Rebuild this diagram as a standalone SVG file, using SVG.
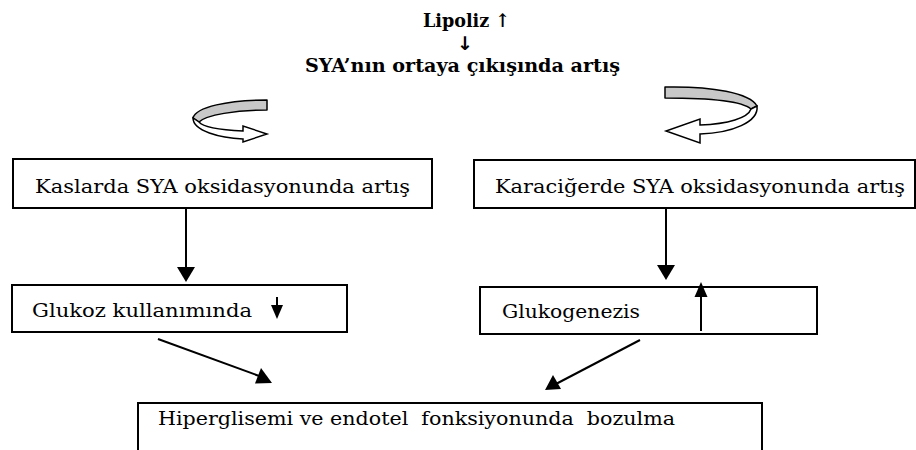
<svg xmlns="http://www.w3.org/2000/svg" width="916" height="450" viewBox="0 0 916 450">
<style>
.box{fill:#fff;stroke:#000;stroke-width:2}
.t{font-family:"DejaVu Serif","Liberation Serif",serif;font-size:19px;fill:#000;white-space:pre}
.h{font-family:"DejaVu Serif","Liberation Serif",serif;font-weight:bold;font-size:19px;fill:#000}
.ar{font-family:"DejaVu Sans","Liberation Sans",sans-serif;font-weight:bold;font-size:19px;fill:#000}
.ln{stroke:#000;stroke-width:2;fill:none}
.ah{fill:#000;stroke:none}
.back{fill:#c8c8c8;stroke:#000;stroke-width:1.5;stroke-linejoin:round}
.front{fill:#fff;stroke:#000;stroke-width:1.5;stroke-linejoin:miter}
</style>
<rect width="916" height="450" fill="#fff"/>
<g id="title">
<text class="h" x="423" y="27" textLength="87" lengthAdjust="spacingAndGlyphs">Lipoliz ↑</text>
<text class="ar" x="465" y="50" text-anchor="middle">↓</text>
<text class="h" x="305" y="72" textLength="315" lengthAdjust="spacingAndGlyphs">SYA’nın ortaya çıkışında artış</text>
</g>
<g id="loop-left">
<path class="back" d="M267,100 C228,100 196,107 193,118 L199,122 C206,115 236,110 267,110 Z"/>
<path class="front" d="M193,118 C193,131 220,138 243,139 L243,142 L267,134 L243,126 L243,131 C222,130 203,127 199,122 Z"/>
</g>
<g id="loop-right">
<path class="back" d="M665,87 C712,86 750,93 757,106 L751,109 C742,101 712,98 665,98 Z"/>
<path class="front" d="M757,106 C759,122 732,133 700,134 L700,143 L666,131 L700,119 L700,125 C728,124 748,118 751,109 Z"/>
</g>
<g id="n1">
<rect class="box" x="13" y="159" width="419" height="49"/>
<text class="t" x="35" y="193" textLength="375" lengthAdjust="spacingAndGlyphs">Kaslarda SYA oksidasyonunda artış</text>
</g>
<g id="n2">
<rect class="box" x="474" y="160" width="441" height="48"/>
<text class="t" x="495" y="193" textLength="410" lengthAdjust="spacingAndGlyphs">Karaciğerde SYA oksidasyonunda artış</text>
</g>
<g id="n3">
<rect class="box" x="12" y="285" width="335" height="47"/>
<text class="t" x="32" y="317" textLength="220" lengthAdjust="spacingAndGlyphs">Glukoz kullanımında</text>
<line class="ln" x1="277" y1="297" x2="277" y2="308"/>
<polygon class="ah" points="271,305 283,305 277,319"/>
</g>
<g id="n4">
<rect class="box" x="480" y="287" width="337" height="47"/>
<text class="t" x="502" y="318" textLength="138" lengthAdjust="spacingAndGlyphs">Glukogenezis</text>
<line class="ln" x1="701" y1="331" x2="701" y2="293"/>
<polygon class="ah" points="694.5,297 707.5,297 701,282"/>
</g>
<g id="n5">
<rect class="box" x="138" y="403" width="624" height="60"/>
<text class="t" x="158" y="425" textLength="517" lengthAdjust="spacingAndGlyphs">Hiperglisemi ve endotel  fonksiyonunda  bozulma</text>
</g>
<g id="connectors">
<line class="ln" x1="186" y1="208" x2="186" y2="270"/>
<polygon class="ah" points="177,267 195,267 186,282"/>
<line class="ln" x1="666" y1="208" x2="666" y2="268"/>
<polygon class="ah" points="657,265 675,265 666,280"/>
<line class="ln" x1="158" y1="339" x2="262" y2="377"/>
<polygon class="ah" points="272,383 255,383.5 261,368"/>
<line class="ln" x1="640" y1="340" x2="554" y2="385"/>
<polygon class="ah" points="545,390 553,375 561,389"/>
</g>
</svg>
